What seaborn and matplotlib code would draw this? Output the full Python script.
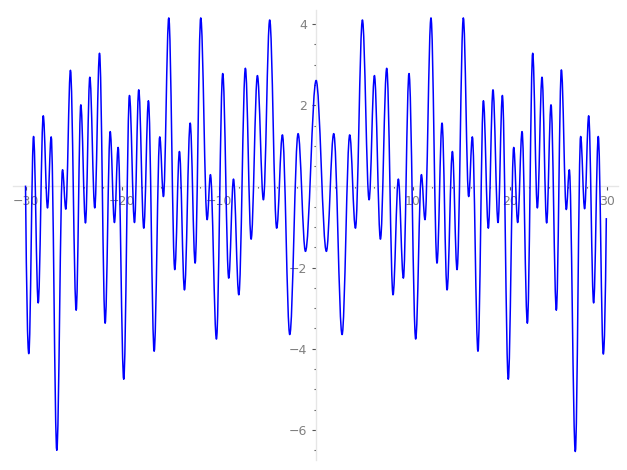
import matplotlib
matplotlib.use("Agg")
import matplotlib.pyplot as plt
import seaborn as sns
from matplotlib.path import Path
from matplotlib.patches import PathPatch
from matplotlib.ticker import MultipleLocator, FuncFormatter

# Curve: start point, every local extremum, end point
x_vals = [-30.00, -29.66, -29.17, -28.69, -28.17, -27.73, -27.35, -26.77, -26.18, -25.84,
          -25.36, -24.77, -24.29, -23.81, -23.36, -22.85, -22.36, -21.78, -21.26, -20.82,
          -20.44, -19.86, -19.27, -18.75, -18.31, -17.79, -17.31, -16.72, -16.14, -15.76,
          -15.21, -14.59, -14.11, -13.59, -13.00, -12.49, -11.91, -11.25, -10.91, -10.29,
          -9.64, -9.02, -8.53, -7.98, -7.30, -6.71, -6.06, -5.44, -4.79, -4.07,
          -3.48, -2.72, -1.86, -1.10, 0.00,
          1.06, 1.82, 2.68, 3.47, 4.06, 4.78, 5.47, 6.02, 6.64, 7.29,
          7.94, 8.49, 9.01, 9.59, 10.28, 10.87, 11.24, 11.86, 12.48, 13.00,
          13.52, 14.07, 14.55, 15.20, 15.75, 16.13, 16.71, 17.27, 17.78, 18.26,
          18.78, 19.23, 19.84, 20.40, 20.81, 21.26, 21.81, 22.36, 22.84, 23.32,
          23.80, 24.25, 24.80, 25.32, 25.83, 26.14, 26.76, 27.31, 27.72, 28.14,
          28.65, 29.13, 29.65, 29.96]
y_vals = [0.02, -4.12, 1.23, -2.87, 1.74, -0.53, 1.22, -6.50, 0.41, -0.56,
          2.86, -3.05, 2.01, -0.90, 2.69, -0.53, 3.28, -3.37, 1.35, -0.89,
          0.96, -4.75, 2.24, -0.89, 2.38, -1.03, 2.11, -4.06, 1.22, -0.25,
          4.15, -2.05, 0.86, -2.55, 1.56, -1.89, 4.15, -0.82, 0.29, -3.76,
          2.78, -2.26, 0.18, -2.67, 2.91, -1.30, 2.73, -0.33, 4.10, -1.03,
          1.27, -3.65, 1.30, -1.60, 2.61,
          -1.60, 1.30, -3.65, 1.27, -1.03, 4.10, -0.33, 2.73, -1.30, 2.91,
          -2.67, 0.18, -2.26, 2.78, -3.76, 0.29, -0.82, 4.15, -1.89, 1.56,
          -2.55, 0.86, -2.05, 4.15, -0.25, 1.22, -4.06, 2.11, -1.03, 2.38,
          -0.89, 2.24, -4.75, 0.96, -0.89, 1.35, -3.37, 3.28, -0.53, 2.69,
          -0.90, 2.01, -3.05, 2.87, -0.57, 0.41, -6.53, 1.23, -0.55, 1.74,
          -2.87, 1.23, -4.13, -0.78]

x_major = 10
x_minor = 2
y_major = 2
y_minor = 0.5

sns.set_style("white")
plt.rcParams["font.family"] = ["DejaVu Sans"]
plt.rcParams["axes.unicode_minus"] = True

fig = plt.figure(figsize=(6.27, 4.70), dpi=100)
ax = fig.add_axes([0.0203, 0.0213, 0.9654, 0.9574])

# smooth curve through the read extrema (horizontal tangent at each extremum)
a = 0.364
n = len(x_vals)
verts = [(x_vals[0], y_vals[0])]
codes = [Path.MOVETO]
for i in range(1, n):
    x0, y0 = x_vals[i - 1], y_vals[i - 1]
    x1, y1 = x_vals[i], y_vals[i]
    dx, dy = x1 - x0, y1 - y0
    if i == 1:
        c1 = (x0 + dx / 3, y0 + dy * 2 / 3)
    else:
        c1 = (x0 + a * dx, y0)
    if i == n - 1:
        c2 = (x1 - dx / 3, y1 - dy * 2 / 3)
    else:
        c2 = (x1 - a * dx, y1)
    verts += [c1, c2, (x1, y1)]
    codes += [Path.CURVE4] * 3
patch = PathPatch(Path(verts, codes), facecolor="none", edgecolor="#0000ff",
                  lw=1.1, zorder=3, joinstyle="round")
ax.add_patch(patch)

ax.set_xlim(-31.32, 31.17)
ax.set_ylim(-6.739, 4.345)

for s in ["top", "right"]:
    ax.spines[s].set_visible(False)
for s in ["left", "bottom"]:
    ax.spines[s].set_position(("data", 0))
    ax.spines[s].set_color("#e6e6e6")
    ax.spines[s].set_linewidth(1.0)
    ax.spines[s].set_zorder(1)

ax.xaxis.set_major_locator(MultipleLocator(x_major))
ax.xaxis.set_minor_locator(MultipleLocator(x_minor))
ax.yaxis.set_major_locator(MultipleLocator(y_major))
ax.yaxis.set_minor_locator(MultipleLocator(y_minor))

def fmt(v, pos):
    if abs(v) < 1e-9:
        return ""
    s = f"{int(round(v))}"
    return s.replace("-", "\u2212")

ax.xaxis.set_major_formatter(FuncFormatter(fmt))
ax.yaxis.set_major_formatter(FuncFormatter(fmt))

ax.tick_params(which="both", bottom=True, left=True, top=False, right=False,
               direction="out", color="#555555", labelcolor="#808080",
               labelsize=9, width=0.8)
ax.tick_params(which="major", length=3.0, pad=3.5)
ax.tick_params(which="minor", length=1.7)
ax.grid(False)

fig.savefig("out.png", dpi=100)
